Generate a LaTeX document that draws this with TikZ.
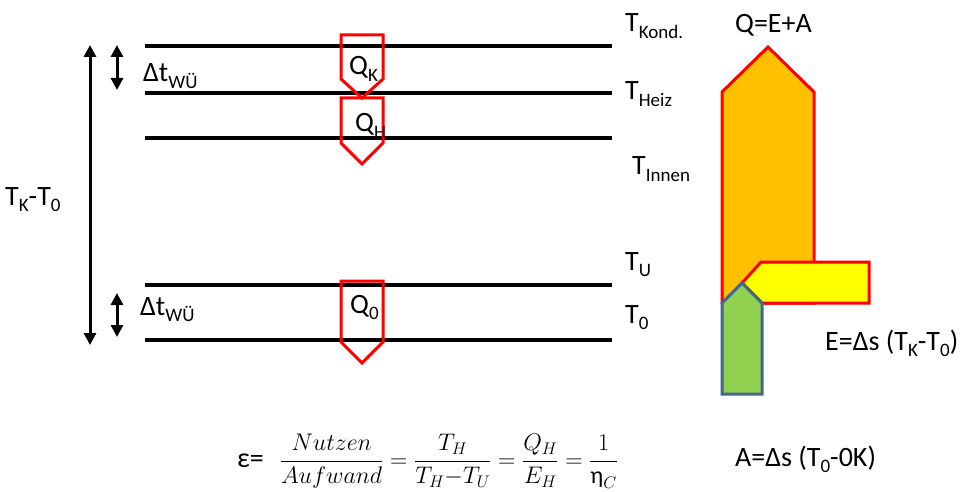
\documentclass[tikz,border=0pt]{standalone}
\usepackage{fix-cm}
\usepackage{fontspec}
\setmainfont{Carlito}
\usetikzlibrary{arrows.meta}
\definecolor{qred}{HTML}{FF0000}
\definecolor{qorange}{HTML}{FFC000}
\definecolor{qyellow}{HTML}{FFFF00}
\definecolor{qgreen}{HTML}{92D050}
\definecolor{qblue}{HTML}{41668F}
\newcommand{\lsub}[1]{\raisebox{-0.45ex}{\fontsize{19}{22}\selectfont #1}}
\begin{document}
\begin{tikzpicture}[x=1pt,y=-1pt,
  level/.style={line width=4pt},
  dbl/.style={line width=3pt,{Triangle[width=12pt,length=12pt]}-{Triangle[width=12pt,length=12pt]}},
  qarrow/.style={draw=qred,line width=3pt,line join=miter},
  blockred/.style={draw=qred,line width=3pt,line join=miter},
  lbl/.style={anchor=base west,inner sep=0pt,font=\fontsize{28}{32}\selectfont}]
\useasboundingbox (0,0) rectangle (967,492);
% level lines
\foreach \y/\n in {46/kond,93/heiz,138/innen,285/u,340/null}{
  \coordinate (l\n a) at (145,\y);
  \coordinate (l\n b) at (612,\y);
  \draw[level] (l\n a) -- (l\n b);
}
% double arrows
\coordinate (bigt) at (90,45); \coordinate (bigb) at (90,345);
\draw[dbl] (bigt) -- (bigb);
\coordinate (s1t) at (117,45); \coordinate (s1b) at (117,90);
\draw[dbl] (s1t) -- (s1b);
\coordinate (s2t) at (117,293); \coordinate (s2b) at (117,337);
\draw[dbl] (s2t) -- (s2b);
% heat arrows
\draw[qarrow] (341,35)--(383,35)--(383,79)--(362,98)--(341,79)--cycle;
\draw[qarrow] (341,98)--(383,98)--(383,143)--(362,164)--(341,143)--cycle;
\draw[qarrow] (341,281)--(383,281)--(383,342)--(362,363)--(341,342)--cycle;
% energy blocks
\draw[blockred,fill=qorange] (722,303)--(722,92)--(768,47)--(814,92)--(814,303)--cycle;
\draw[blockred,fill=qyellow] (869,262)--(761,262)--(742,283)--(762,303)--(869,303)--cycle;
\draw[draw=qblue,line width=3pt,line join=miter,fill=qgreen] (722,394)--(722,303)--(742,283)--(762,303)--(762,394)--cycle;
% labels
\node[lbl] (tkt0) at (5,205) {T\lsub{K}-T\lsub{0}};
\node[lbl] (dt1) at (143,82) {Δt\lsub{WÜ}};
\node[lbl] (dt2) at (140,315) {Δt\lsub{WÜ}};
\node[lbl] (qk) at (349,75) {Q\lsub{K}};
\node[lbl] (qh) at (355,132) {Q\lsub{H}};
\node[lbl] (q0) at (350,313) {Q\lsub{0}};
\node[lbl] (tkond) at (625,32) {T\lsub{Kond.}};
\node[lbl] (theiz) at (625,100) {T\lsub{Heiz}};
\node[lbl] (tinnen) at (632,175) {T\lsub{Innen}};
\node[lbl] (tu) at (625,270) {T\lsub{U}};
\node[lbl] (tnull) at (625,323) {T\lsub{0}};
\node[lbl] (qea) at (735,33) {Q=E+A};
\node[lbl] (elbl) at (825,350) {E=Δs (T\lsub{K}-T\lsub{0})};
\node[lbl] (albl) at (735,466) {A=Δs (T\lsub{0}-0K)};
\node[anchor=base west,inner sep=0pt] (eq) at (237,467) {\fontsize{24}{28}\selectfont $\mbox{\fontsize{28}{32}\selectfont ε=}\hspace{16pt}\displaystyle\frac{Nutzen}{Aufwand}=\frac{T_H}{T_H{-}T_U}=\frac{Q_H}{E_H}=\frac{1}{\mbox{η}_C}$};
\end{tikzpicture}
\end{document}
